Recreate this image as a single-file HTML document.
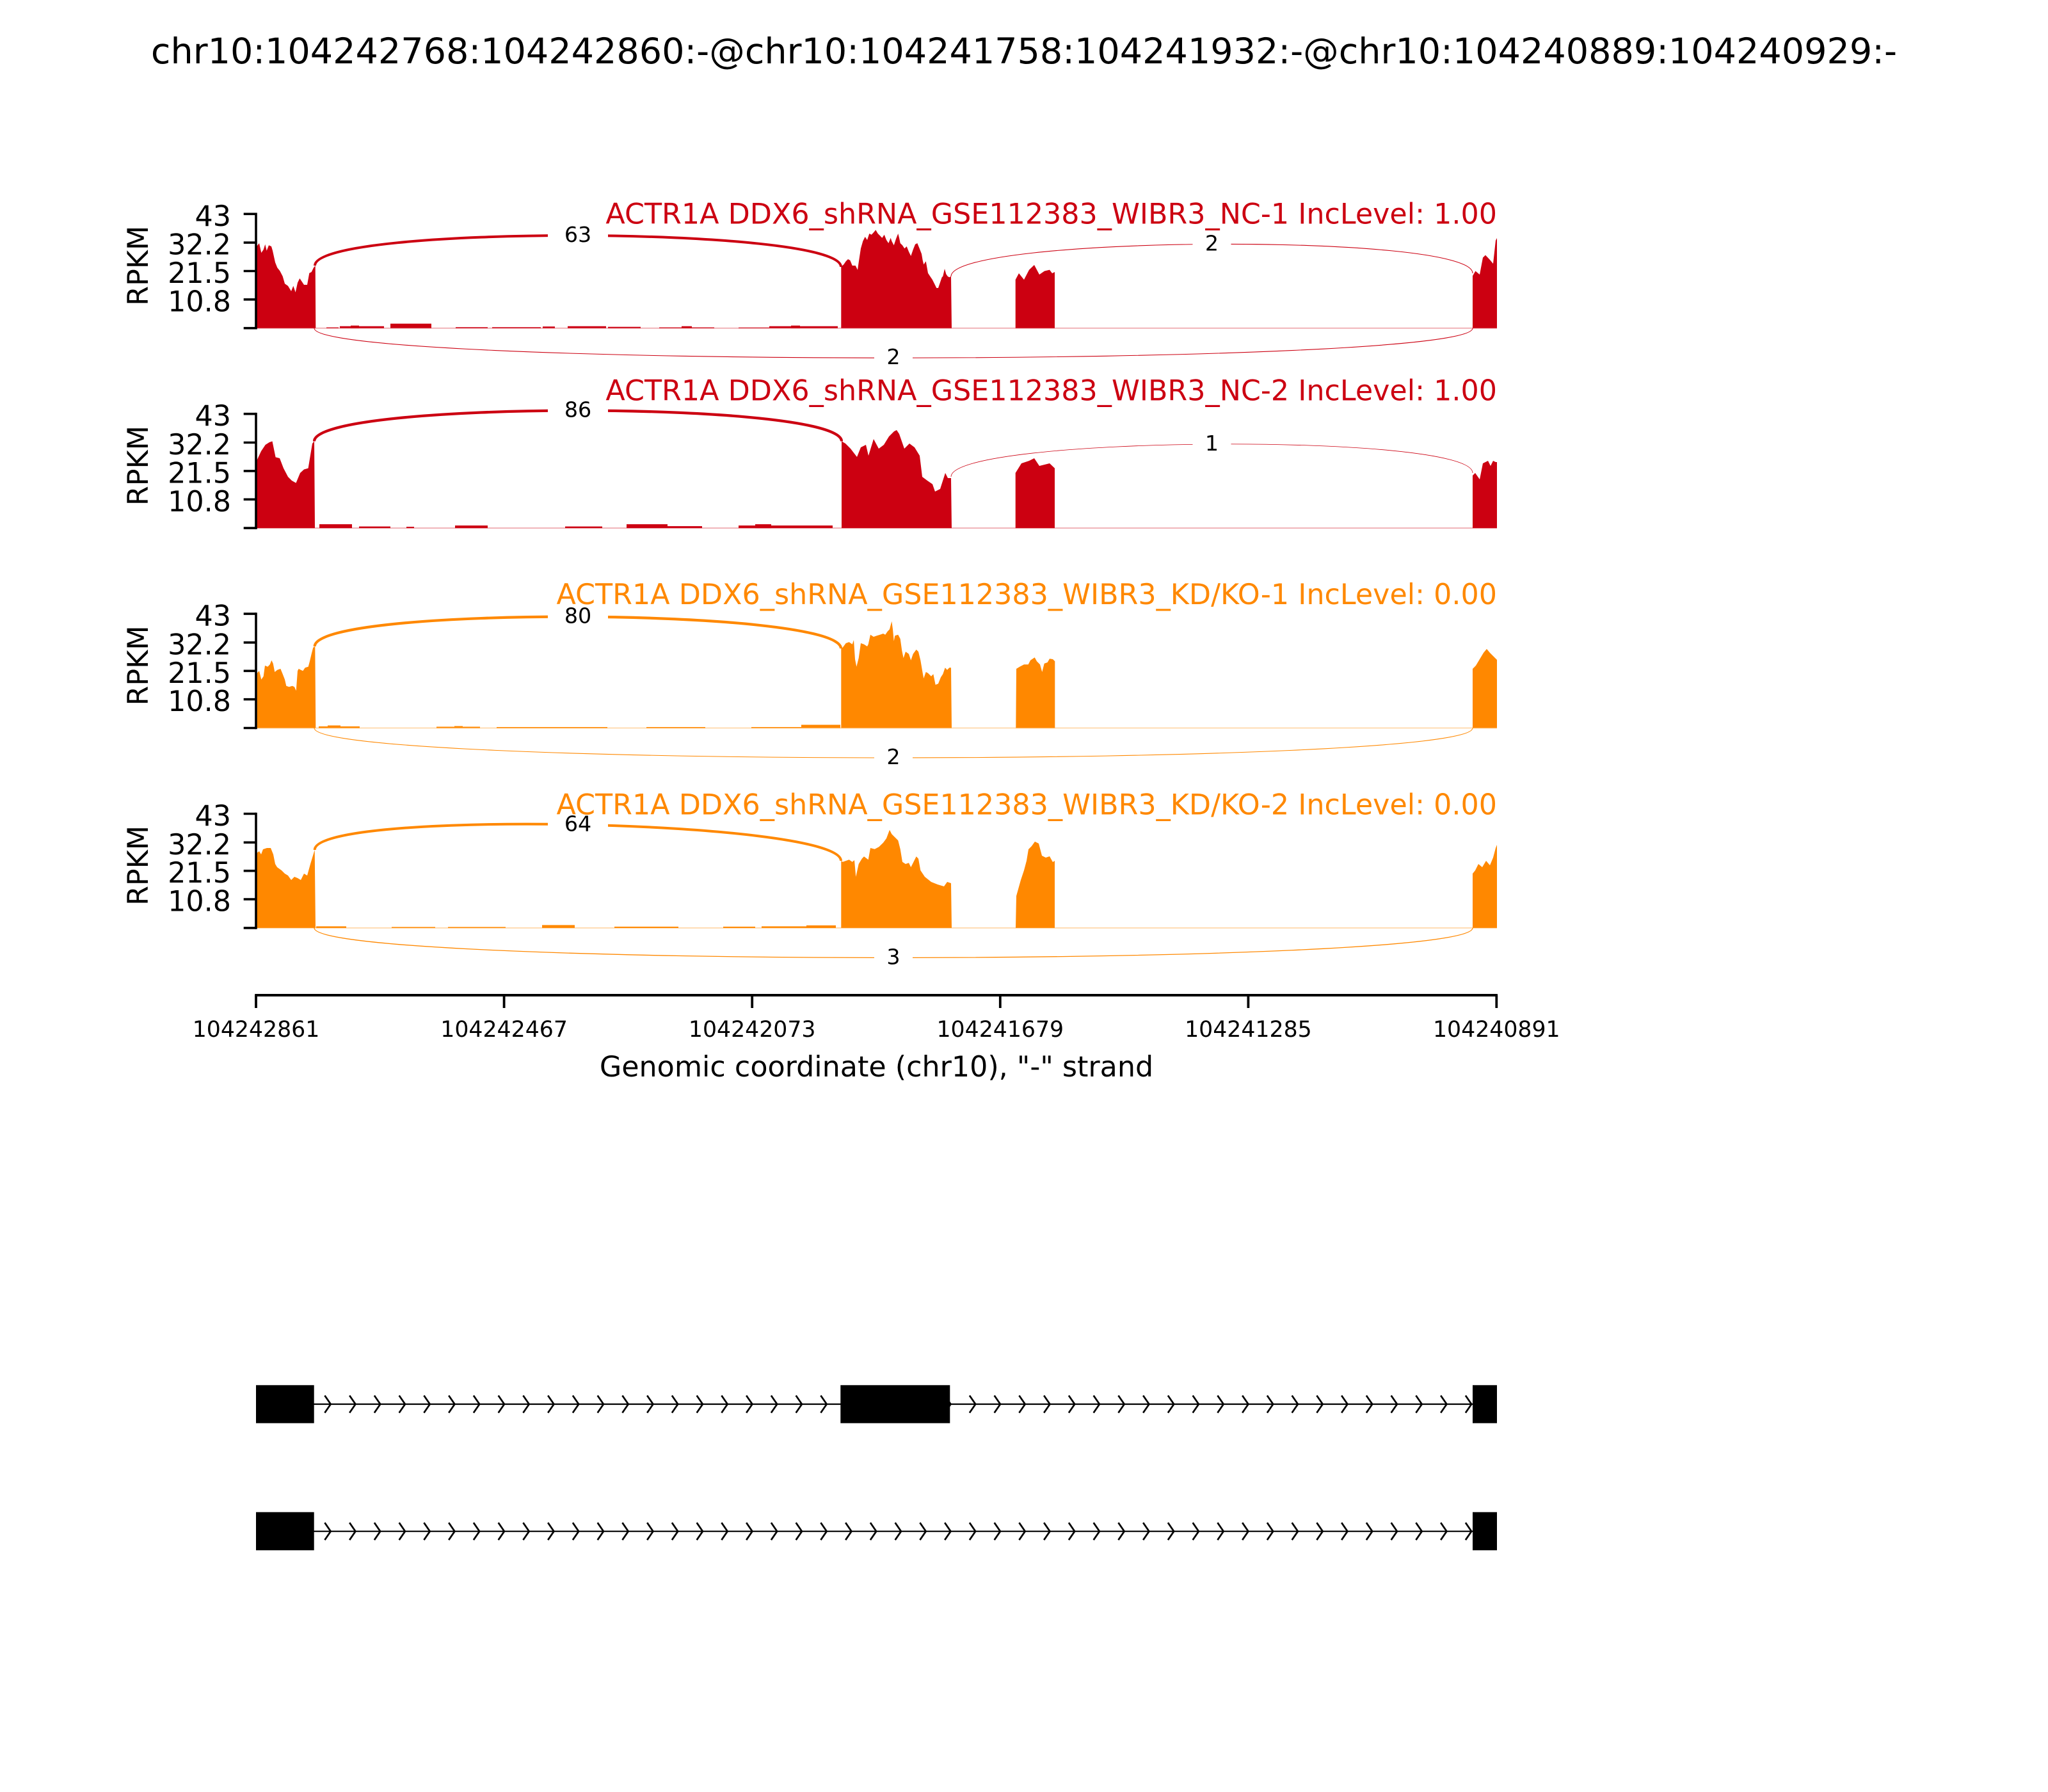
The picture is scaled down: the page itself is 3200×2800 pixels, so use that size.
<!DOCTYPE html>
<html><head><meta charset="utf-8"><style>html,body{margin:0;padding:0;background:#fff}svg{display:block}</style></head><body>
<svg width="3200" height="2800" viewBox="0 0 3200 2800" xmlns="http://www.w3.org/2000/svg" xmlns:xlink="http://www.w3.org/1999/xlink" font-family="'DejaVu Sans','Liberation Sans',sans-serif">
<rect width="3200" height="2800" fill="#fff"/>
<text x="1600" y="99" font-size="55.6" text-anchor="middle" fill="#000">chr10:104242768:104242860:-@chr10:104241758:104241932:-@chr10:104240889:104240929:-</text>

<!-- ===== Panel 1 ===== -->
<g fill="#CC0011">
<line x1="400" y1="512.7" x2="2339" y2="512.7" stroke="#CC0011" stroke-opacity="0.3" stroke-width="2"/>
<polygon points="401,512.7 401,385 405,380 408.3,395 411.7,390 414.3,381.7 416.7,391.7 420,383.3 424,385 426,391.7 430,410 433.3,418.3 437.3,423.3 441.7,431.7 445,443.3 450,446.7 455,455 458.3,446.7 461.7,456.7 465,441.7 468.3,435 471.7,440 475,445 480,445 483.3,426.7 486.7,425 490,418.3 492.7,415 493.3,512.7"/>
<polygon points="1314.3,512.7 1314.3,416.7 1318.3,413.3 1321.7,408.3 1325,405 1328.3,406.7 1331.7,415 1336.7,415 1340,421.7 1341.7,410 1345,388.3 1348.3,376.7 1351.7,370 1355,375 1358.3,365 1361.7,366.7 1365,363.3 1368.3,359.3 1371.7,365 1375,368.3 1378.3,371.7 1381.7,366.7 1385,375 1388.3,380 1391.7,371.7 1393.3,376.7 1396.7,383.3 1400,373.3 1403.3,365 1405,371.7 1406.7,380 1410,383.3 1413.3,388.3 1416.7,385 1420,393.3 1423.3,400 1426.7,390 1430,381.7 1433.3,380 1436.7,388.3 1440,396.7 1441.7,406.7 1443.3,413.3 1446.7,408.3 1450,426.7 1453.3,431.7 1456.7,436.7 1460,443.3 1463.3,450 1466,450 1468.3,443.3 1471.7,433.3 1473.3,431.7 1476,420 1478.3,428.3 1480.7,431.7 1483.3,433.3 1486,431.7 1487,512.7"/>
<polygon points="1586.7,512.7 1586.7,437 1592,427 1600,437 1608,421.6 1616,414 1624,429 1632,423.5 1640,421.6 1644,427 1648,425 1648,512.7"/>
<polygon points="2301,512.7 2301,431 2305.4,423.5 2312,429 2317,402.5 2321,398.6 2328,406 2333,412 2337,375.7 2339,372 2339,512.7"/>
<rect x="510" y="511.5" width="19" height="1.2"/><rect x="531" y="509.7" width="69" height="3"/><rect x="548" y="508.7" width="13" height="4"/>
<rect x="610" y="505.7" width="64" height="7"/><rect x="712" y="511.2" width="50" height="1.5"/><rect x="769" y="511.2" width="76" height="1.5"/>
<rect x="848" y="510.2" width="19" height="2.5"/><rect x="887" y="509.7" width="60" height="3"/><rect x="950" y="510.7" width="51" height="2"/>
<rect x="1030" y="511.5" width="86" height="1.2"/><rect x="1065" y="509.7" width="16" height="3"/><rect x="1154" y="511.7" width="48" height="1"/>
<rect x="1202" y="509.7" width="107" height="3"/><rect x="1236" y="508.7" width="14" height="4"/>
</g>
<g fill="none" stroke="#CC0011">
<path d="M492,415 C492,351 1314,353 1314,417" stroke-width="4"/>
<path d="M1486,432 C1486,368 2301,363 2301,427" stroke-width="1.05"/>
<path d="M491,512.7 C491,574.7 2301,574.7 2301,512.7" stroke-width="1.05"/>
</g>
<rect x="856" y="348" width="94" height="40" fill="#fff"/><text x="903" y="378" font-size="33.3" text-anchor="middle">63</text>
<rect x="1863.5" y="361.5" width="60" height="40" fill="#fff"/><text x="1893.5" y="391.5" font-size="33.3" text-anchor="middle">2</text>
<rect x="1366" y="539.2" width="60" height="40" fill="#fff"/><text x="1396" y="569.2" font-size="33.3" text-anchor="middle">2</text>

<!-- ===== Panel 2 ===== -->
<g fill="#CC0011">
<line x1="400" y1="825.1" x2="2339" y2="825.1" stroke="#CC0011" stroke-opacity="0.3" stroke-width="2"/>
<polygon points="401,825.1 401,720 408,705 414.7,695 421,691 425.5,689.5 430.6,714.4 437,716 443,731.6 450,745 456,751 462.5,754.6 469,739 475,733.5 481.6,731.6 488,693 491,689.5 492,825.1"/>
<polygon points="1315,825.1 1315,689.5 1321,693 1329,701 1339,714 1345,699 1353,695 1357,712 1365,686 1373,701 1381,695 1389,682 1397,674 1401,672 1405,678 1413,701 1421,693 1429,699 1437,712 1441,745 1449,751 1457,756.5 1461,768 1469,764 1477,739 1481,747 1486,747 1487,825.1"/>
<polygon points="1586.7,825.1 1586.7,739 1596,724 1608,720 1616,716 1624,728 1632,726 1640,724 1648,731.6 1648,825.1"/>
<polygon points="2301,825.1 2301,743 2305,739 2312,749 2317,724 2325,720 2329,728 2333,720 2337,722 2339,722 2339,825.1"/>
<rect x="499" y="819.1" width="51" height="6"/><rect x="561" y="822.6" width="49" height="2.5"/><rect x="635" y="823.1" width="12" height="2"/>
<rect x="711" y="821.1" width="51" height="4"/><rect x="883" y="822.6" width="58" height="2.5"/><rect x="979" y="819.1" width="64" height="6"/>
<rect x="1043" y="822.1" width="54" height="3"/><rect x="1154" y="821.1" width="147" height="4"/><rect x="1180" y="819.1" width="25" height="6"/>
</g>
<g fill="none" stroke="#CC0011">
<path d="M491,689.5 C491,625.5 1315,625.5 1315,689.5" stroke-width="4.3"/>
<path d="M1486,745 C1486,681 2301,675 2301,739" stroke-width="0.8"/>
</g>
<rect x="856" y="621.5" width="94" height="40" fill="#fff"/><text x="903" y="651.5" font-size="33.3" text-anchor="middle">86</text>
<rect x="1863.5" y="674" width="60" height="40" fill="#fff"/><text x="1893.5" y="704" font-size="33.3" text-anchor="middle">1</text>

<!-- ===== Panel 3 ===== -->
<g fill="#FF8800">
<line x1="400" y1="1137.5" x2="2339" y2="1137.5" stroke="#FF8800" stroke-opacity="0.3" stroke-width="2"/>
<polygon points="401.7,1137.5 401.7,1051.7 405,1048.3 408.3,1061.7 411.7,1056.7 414,1040 418.3,1041.7 421.7,1038.3 424.3,1031.7 426.7,1036.7 429.3,1050 433.3,1046.7 438.3,1045 441.7,1053.3 445,1061.7 447.3,1071.7 451.7,1073.3 456.7,1071.7 460,1073.3 462.7,1079.3 465,1048.3 466.7,1045 470,1046.7 473.3,1048.3 476.7,1043.3 481.7,1041.7 484,1033.3 486.7,1021.7 489.3,1011.7 492.3,1010 493.3,1137.5"/>
<polygon points="1314.3,1137.5 1314.3,1013.3 1316.7,1011.7 1321.7,1005 1326.7,1003.3 1331.7,1006.7 1334,1000 1336,1030 1338.3,1041.7 1341.7,1028.3 1345,1005 1350,1006.7 1355,1010 1356.7,1006.7 1360,991.7 1365,995 1370,993.3 1375,991.7 1380,990 1383.3,991.7 1386.7,986.7 1390,983.3 1391.7,976.7 1393.3,970.7 1395,983.3 1396.7,1001.7 1398.3,993.3 1403.3,991.7 1406.7,998.3 1409.3,1016.7 1411.7,1028.3 1415,1018.3 1420,1021.7 1423.3,1031.7 1426.7,1021.7 1431.7,1015 1435,1018.3 1438.3,1031.7 1441.7,1051.7 1443.3,1060 1446.7,1050 1450,1051.7 1455,1056.7 1458.3,1053.3 1461.7,1070 1466,1068.3 1470,1058.3 1473.3,1053.3 1476.7,1043.3 1480,1046.7 1483.3,1043.3 1486,1043.3 1487,1137.5"/>
<polygon points="1587.3,1137.5 1588,1045 1593.3,1041.7 1600,1038.3 1606.7,1038.3 1610,1031.7 1616.7,1027.3 1620,1033.3 1625,1038.3 1628.3,1050 1631.7,1036.7 1636.7,1035 1640,1029.3 1645,1030 1648.3,1033.3 1648.3,1137.5"/>
<polygon points="2301,1137.5 2301,1045 2306,1040 2312,1030 2318,1020 2323,1014 2328,1020 2333,1025 2339,1031 2339,1137.5"/>
<rect x="498" y="1135" width="64" height="2.5"/><rect x="512" y="1133.5" width="20" height="4"/><rect x="682" y="1135.5" width="68" height="2"/>
<rect x="710" y="1134.5" width="13" height="3"/><rect x="776" y="1136" width="173" height="1.5"/><rect x="1010" y="1136" width="92" height="1.5"/>
<rect x="1174" y="1136" width="78" height="1.5"/><rect x="1252" y="1132.5" width="61" height="5"/>
</g>
<g fill="none" stroke="#FF8800">
<path d="M491.7,1010 C491.7,946 1314,949.3 1314,1013.3" stroke-width="4.2"/>
<path d="M491,1137.5 C491,1199.5 2301,1199.5 2301,1137.5" stroke-width="1.05"/>
</g>
<rect x="856" y="943.7" width="94" height="40" fill="#fff"/><text x="903" y="973.7" font-size="33.3" text-anchor="middle">80</text>
<rect x="1366" y="1164" width="60" height="40" fill="#fff"/><text x="1396" y="1194" font-size="33.3" text-anchor="middle">2</text>

<!-- ===== Panel 4 ===== -->
<g fill="#FF8800">
<line x1="400" y1="1449.9" x2="2339" y2="1449.9" stroke="#FF8800" stroke-opacity="0.3" stroke-width="2"/>
<polygon points="401,1449.9 401,1333 405,1330 408,1335 411,1327 417,1325 423,1325 427,1335 430,1350 433,1355 440,1360 445,1365 450,1368 455,1375 460,1370 465,1372 470,1375 475,1365 480,1368 485,1350 488,1340 491.7,1328 493,1449.9"/>
<polygon points="1314.3,1449.9 1314.3,1345 1316.7,1346.7 1321.7,1345 1326.7,1343.3 1331.7,1346.7 1335,1344 1337.3,1370 1341.7,1350 1346.7,1341.7 1350,1338.3 1356.7,1343.3 1360,1325 1366.7,1326.7 1373.3,1323.3 1380,1316.7 1385,1310 1390,1296.7 1393.3,1303.3 1398.3,1308.3 1403.3,1313.3 1406.7,1326.7 1410,1346.7 1415,1350 1420,1348.3 1423.3,1355 1426.7,1348.3 1431.7,1338.3 1435,1341.7 1438.3,1360 1445,1370 1455,1378 1465,1382 1475,1385 1480,1378 1486,1380 1487,1449.9"/>
<polygon points="1587,1449.9 1588,1400 1595,1375 1600,1360 1604,1345 1607,1327 1612,1322 1617,1315 1623,1318 1628,1337 1634,1340 1640,1338 1645,1347 1648,1345 1648,1449.9"/>
<polygon points="2301,1449.9 2301,1365 2305,1360 2310,1350 2316,1355 2322,1345 2328,1352 2333,1340 2337,1325 2339,1320 2339,1449.9"/>
<rect x="494" y="1447.4" width="47" height="2.5"/><rect x="612" y="1448.4" width="68" height="1.5"/><rect x="700" y="1448.4" width="90" height="1.5"/>
<rect x="847" y="1445.4" width="51" height="4.5"/><rect x="960" y="1447.9" width="100" height="2"/><rect x="1130" y="1447.9" width="50" height="2"/>
<rect x="1190" y="1447.4" width="116" height="2.5"/><rect x="1260" y="1445.9" width="46" height="4"/>
</g>
<g fill="none" stroke="#FF8800">
<path d="M491.7,1328 C491.7,1264 1314,1281 1314,1345" stroke-width="4"/>
<path d="M491,1449.9 C491,1511.9 2301,1511.9 2301,1449.9" stroke-width="1.3"/>
</g>
<rect x="856" y="1268.5" width="94" height="40" fill="#fff"/><text x="903" y="1298.5" font-size="33.3" text-anchor="middle">64</text>
<rect x="1366" y="1476.4" width="60" height="40" fill="#fff"/><text x="1396" y="1506.4" font-size="33.3" text-anchor="middle">3</text>

<!-- ===== Panel titles ===== -->
<g font-size="44.4" text-anchor="end">
<text x="2339" y="349.3" fill="#CC0011">ACTR1A DDX6_shRNA_GSE112383_WIBR3_NC-1 IncLevel: 1.00</text>
<text x="2339" y="625.7" fill="#CC0011">ACTR1A DDX6_shRNA_GSE112383_WIBR3_NC-2 IncLevel: 1.00</text>
<text x="2339" y="944" fill="#FF8800">ACTR1A DDX6_shRNA_GSE112383_WIBR3_KD/KO-1 IncLevel: 0.00</text>
<text x="2339" y="1272.5" fill="#FF8800">ACTR1A DDX6_shRNA_GSE112383_WIBR3_KD/KO-2 IncLevel: 0.00</text>
</g>

<!-- ===== Y axes ===== -->
<g stroke="#000" stroke-width="3.6" fill="none">
<line x1="400" y1="332.5" x2="400" y2="514.5"/>
<line x1="380.7" y1="334.3" x2="400" y2="334.3"/><line x1="380.7" y1="379.1" x2="400" y2="379.1"/><line x1="380.7" y1="423.5" x2="400" y2="423.5"/><line x1="380.7" y1="467.9" x2="400" y2="467.9"/><line x1="380.7" y1="512.7" x2="400" y2="512.7"/>
<line x1="400" y1="644.9" x2="400" y2="826.9"/>
<line x1="380.7" y1="646.7" x2="400" y2="646.7"/><line x1="380.7" y1="691.5" x2="400" y2="691.5"/><line x1="380.7" y1="735.9" x2="400" y2="735.9"/><line x1="380.7" y1="780.3" x2="400" y2="780.3"/><line x1="380.7" y1="825.1" x2="400" y2="825.1"/>
<line x1="400" y1="957.3" x2="400" y2="1139.3"/>
<line x1="380.7" y1="959.1" x2="400" y2="959.1"/><line x1="380.7" y1="1003.9" x2="400" y2="1003.9"/><line x1="380.7" y1="1048.3" x2="400" y2="1048.3"/><line x1="380.7" y1="1092.7" x2="400" y2="1092.7"/><line x1="380.7" y1="1137.5" x2="400" y2="1137.5"/>
<line x1="400" y1="1269.7" x2="400" y2="1451.7"/>
<line x1="380.7" y1="1271.5" x2="400" y2="1271.5"/><line x1="380.7" y1="1316.3" x2="400" y2="1316.3"/><line x1="380.7" y1="1360.7" x2="400" y2="1360.7"/><line x1="380.7" y1="1405.1" x2="400" y2="1405.1"/><line x1="380.7" y1="1449.9" x2="400" y2="1449.9"/>
</g>
<g font-size="44.4" text-anchor="end" fill="#000">
<text x="361" y="352.8">43</text><text x="361" y="397.6">32.2</text><text x="361" y="442">21.5</text><text x="361" y="486.4">10.8</text>
<text x="361" y="665.2">43</text><text x="361" y="710">32.2</text><text x="361" y="754.4">21.5</text><text x="361" y="798.8">10.8</text>
<text x="361" y="977.6">43</text><text x="361" y="1022.4">32.2</text><text x="361" y="1066.8">21.5</text><text x="361" y="1111.2">10.8</text>
<text x="361" y="1290">43</text><text x="361" y="1334.8">32.2</text><text x="361" y="1379.2">21.5</text><text x="361" y="1423.6">10.8</text>
</g>
<g font-size="44.4" text-anchor="middle" fill="#000">
<text transform="translate(231,415.2) rotate(-90)">RPKM</text>
<text transform="translate(231,727.6) rotate(-90)">RPKM</text>
<text transform="translate(231,1040) rotate(-90)">RPKM</text>
<text transform="translate(231,1352.4) rotate(-90)">RPKM</text>
</g>

<!-- ===== X axis ===== -->
<g stroke="#000" stroke-width="3.8">
<line x1="398.2" y1="1555" x2="2340" y2="1555" stroke-width="4"/>
<line x1="400" y1="1555" x2="400" y2="1575"/><line x1="787.6" y1="1555" x2="787.6" y2="1575"/><line x1="1175.2" y1="1555" x2="1175.2" y2="1575"/>
<line x1="1562.8" y1="1555" x2="1562.8" y2="1575"/><line x1="1950.4" y1="1555" x2="1950.4" y2="1575"/><line x1="2338.3" y1="1555" x2="2338.3" y2="1575"/>
</g>
<g font-size="34.7" text-anchor="middle" fill="#000">
<text x="400" y="1620">104242861</text><text x="787.6" y="1620">104242467</text><text x="1175.2" y="1620">104242073</text>
<text x="1562.8" y="1620">104241679</text><text x="1950.4" y="1620">104241285</text><text x="2338.3" y="1620">104240891</text>
</g>
<text x="1369.5" y="1682" font-size="44.4" text-anchor="middle" fill="#000">Genomic coordinate (chr10), "-" strand</text>

<!-- ===== Gene structure ===== -->
<defs>
<polyline id="cv" points="-9.3,-13.5 0,0 -9.3,13.5" fill="none" stroke="#000" stroke-width="2.7"/>
<g id="chevs">
<use xlink:href="#cv" href="#cv" x="516.7" y="0"/><use xlink:href="#cv" href="#cv" x="555.45" y="0"/><use xlink:href="#cv" href="#cv" x="594.2" y="0"/><use xlink:href="#cv" href="#cv" x="632.95" y="0"/><use xlink:href="#cv" href="#cv" x="671.7" y="0"/>
<use xlink:href="#cv" href="#cv" x="710.45" y="0"/><use xlink:href="#cv" href="#cv" x="749.2" y="0"/><use xlink:href="#cv" href="#cv" x="787.95" y="0"/><use xlink:href="#cv" href="#cv" x="826.7" y="0"/><use xlink:href="#cv" href="#cv" x="865.45" y="0"/>
<use xlink:href="#cv" href="#cv" x="904.2" y="0"/><use xlink:href="#cv" href="#cv" x="942.95" y="0"/><use xlink:href="#cv" href="#cv" x="981.7" y="0"/><use xlink:href="#cv" href="#cv" x="1020.45" y="0"/><use xlink:href="#cv" href="#cv" x="1059.2" y="0"/>
<use xlink:href="#cv" href="#cv" x="1097.95" y="0"/><use xlink:href="#cv" href="#cv" x="1136.7" y="0"/><use xlink:href="#cv" href="#cv" x="1175.45" y="0"/><use xlink:href="#cv" href="#cv" x="1214.2" y="0"/><use xlink:href="#cv" href="#cv" x="1252.95" y="0"/>
<use xlink:href="#cv" href="#cv" x="1291.7" y="0"/><use xlink:href="#cv" href="#cv" x="1330.45" y="0"/><use xlink:href="#cv" href="#cv" x="1369.2" y="0"/><use xlink:href="#cv" href="#cv" x="1407.95" y="0"/><use xlink:href="#cv" href="#cv" x="1446.7" y="0"/>
<use xlink:href="#cv" href="#cv" x="1485.45" y="0"/><use xlink:href="#cv" href="#cv" x="1524.2" y="0"/><use xlink:href="#cv" href="#cv" x="1562.95" y="0"/><use xlink:href="#cv" href="#cv" x="1601.7" y="0"/><use xlink:href="#cv" href="#cv" x="1640.45" y="0"/>
<use xlink:href="#cv" href="#cv" x="1679.2" y="0"/><use xlink:href="#cv" href="#cv" x="1717.95" y="0"/><use xlink:href="#cv" href="#cv" x="1756.7" y="0"/><use xlink:href="#cv" href="#cv" x="1795.45" y="0"/><use xlink:href="#cv" href="#cv" x="1834.2" y="0"/>
<use xlink:href="#cv" href="#cv" x="1872.95" y="0"/><use xlink:href="#cv" href="#cv" x="1911.7" y="0"/><use xlink:href="#cv" href="#cv" x="1950.45" y="0"/><use xlink:href="#cv" href="#cv" x="1989.2" y="0"/><use xlink:href="#cv" href="#cv" x="2027.95" y="0"/>
<use xlink:href="#cv" href="#cv" x="2066.7" y="0"/><use xlink:href="#cv" href="#cv" x="2105.45" y="0"/><use xlink:href="#cv" href="#cv" x="2144.2" y="0"/><use xlink:href="#cv" href="#cv" x="2182.95" y="0"/><use xlink:href="#cv" href="#cv" x="2221.7" y="0"/>
<use xlink:href="#cv" href="#cv" x="2260.45" y="0"/><use xlink:href="#cv" href="#cv" x="2299.2" y="0"/>
</g>
</defs>
<!-- row 1 -->
<line x1="490" y1="2194" x2="2301" y2="2194" stroke="#000" stroke-width="2.2"/>
<use xlink:href="#chevs" href="#chevs" x="0" y="2194"/>
<rect x="400" y="2164.3" width="90.7" height="59.4" fill="#000"/>
<rect x="1313.3" y="2164.3" width="171" height="59.4" fill="#000"/>
<rect x="2301" y="2164.3" width="38" height="59.4" fill="#000"/>
<!-- row 2 -->
<line x1="490" y1="2392.7" x2="2301" y2="2392.7" stroke="#000" stroke-width="2.2"/>
<use xlink:href="#chevs" href="#chevs" x="0" y="2392.7"/>
<rect x="400" y="2362.7" width="90.7" height="59.6" fill="#000"/>
<rect x="2301" y="2362.7" width="38" height="59.6" fill="#000"/>
</svg>
</body></html>
